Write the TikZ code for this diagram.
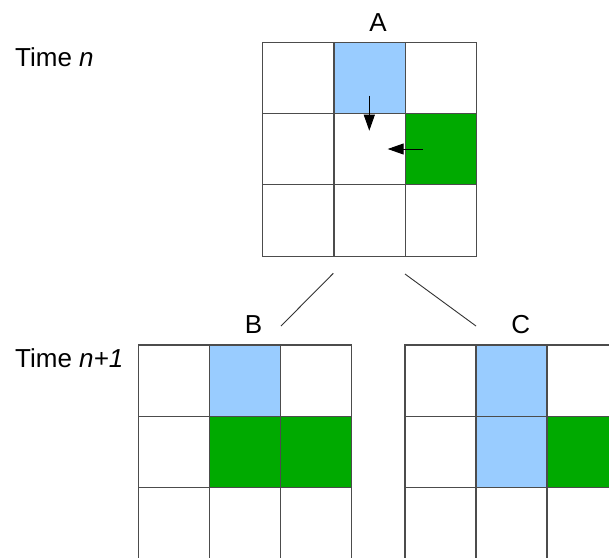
\documentclass[tikz,border=0pt]{standalone}
\usepackage{fontspec}
\setmainfont{Liberation Sans}
\usetikzlibrary{arrows.meta}
\definecolor{cblue}{RGB}{153,204,255}
\definecolor{cgreen}{RGB}{0,170,0}
\tikzset{
  cell/.style={draw=black!70, line width=1.1pt, minimum size=#1, inner sep=0pt, outer sep=0pt},
  lbl/.style={font=\fontsize{26}{30}\selectfont, inner sep=0pt, anchor=base},
  arr/.style={line width=1pt, -{Triangle[length=16pt,width=11pt]}},
  link/.style={line width=0.9pt, draw=black!80}
}
\begin{document}
\begin{tikzpicture}[x=1pt,y=-1pt]
\useasboundingbox (0,0) rectangle (609,557);
\clip (0,0) rectangle (609,557);
\fill[white] (0,0) rectangle (609,557);
% Grid A
\foreach \r/\c/\f in {0/0/white,0/1/cblue,0/2/white,1/0/white,1/1/white,1/2/cgreen,2/0/white,2/1/white,2/2/white}
  \node[cell=71.3pt, fill=\f] (A-\r-\c) at (262.7+35.65+71.3*\c, 42.3+35.65+71.3*\r) {};
% Grid B
\foreach \r/\c/\f in {0/0/white,0/1/cblue,0/2/white,1/0/white,1/1/cgreen,1/2/cgreen,2/0/white,2/1/white,2/2/white}
  \node[cell=71pt, minimum height=71.4pt, fill=\f] (B-\r-\c) at (138.3+35.5+71*\c, 345+35.7+71.4*\r) {};
% Grid C
\foreach \r/\c/\f in {0/0/white,0/1/cblue,0/2/white,1/0/white,1/1/cblue,1/2/cgreen,2/0/white,2/1/white,2/2/white}
  \node[cell=71pt, minimum height=71.4pt, fill=\f] (C-\r-\c) at (405+35.5+71*\c, 345+35.7+71.4*\r) {};
% labels
\node[lbl] (labA) at (378,31) {A};
\node[lbl] (labB) at (253.5,333) {B};
\node[lbl] (labC) at (520.7,333.5) {C};
\node[lbl, anchor=base west] (tn) at (15,66) {Time \textit{n}};
\node[lbl, anchor=base west] (tn1) at (15,367) {Time \textit{n+1}};
% arrows in A
\coordinate (d0) at (369.3,95.7);
\coordinate (d1) at (369.3,130.7);
\coordinate (l0) at (422.7,149);
\coordinate (l1) at (387.7,149);
\draw[arr] (d0) -- (d1);
\draw[arr] (l0) -- (l1);
% links
\coordinate (s1) at (333.3,273.3);
\coordinate (e1) at (281,326);
\coordinate (s2) at (405,274);
\coordinate (e2) at (476,326);
\draw[link] (s1) -- (e1);
\draw[link] (s2) -- (e2);
\end{tikzpicture}
\end{document}
